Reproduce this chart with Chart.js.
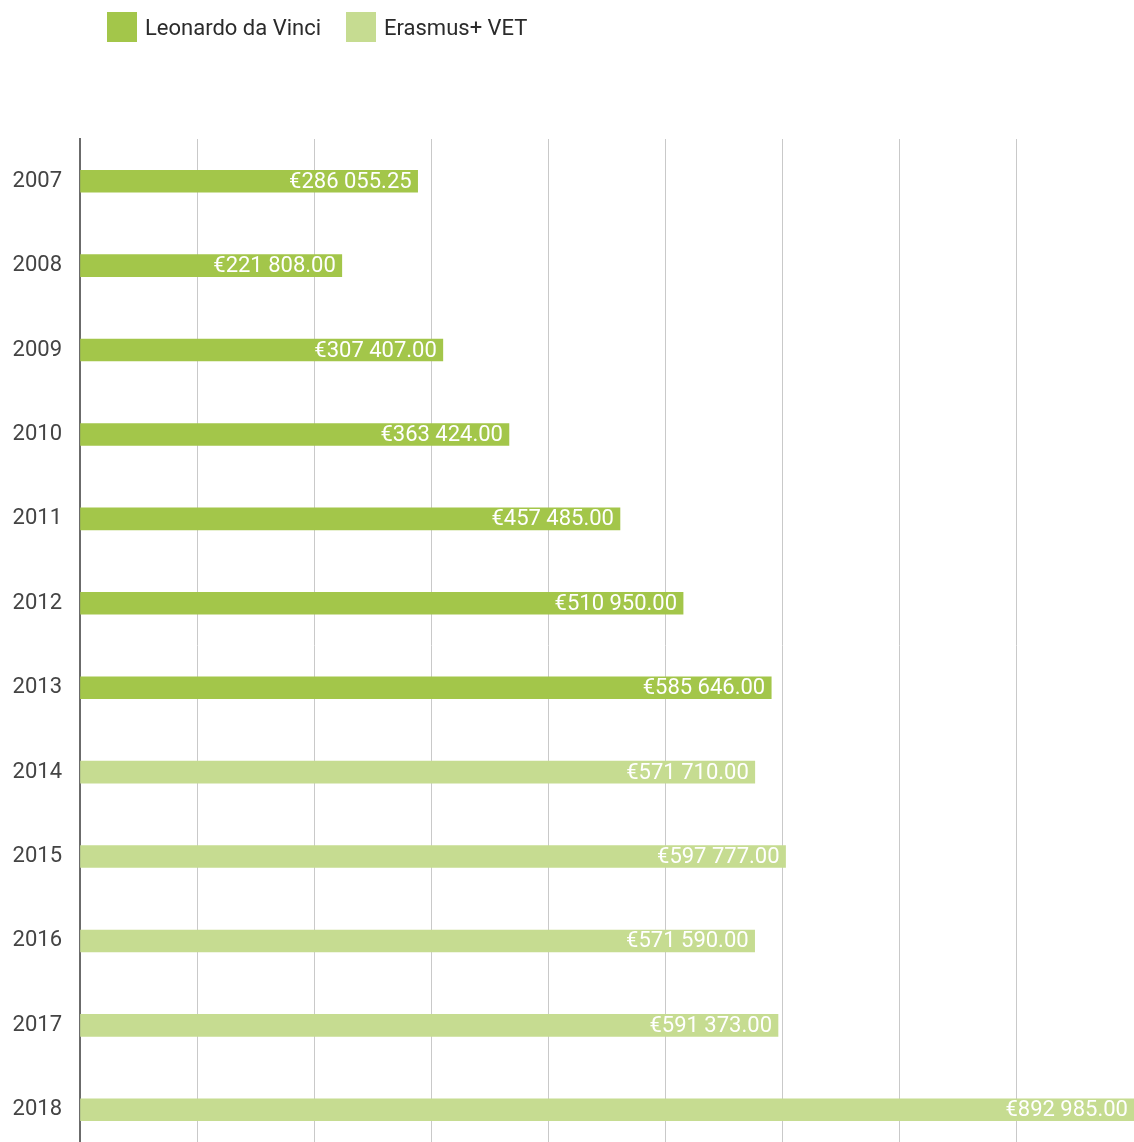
<!DOCTYPE html>
<html>
<head>
<meta charset="utf-8">
<script src="https://cdn.jsdelivr.net/npm/chart.js@4.4.1/dist/chart.umd.min.js"></script>
<style>
  html, body {
    margin: 0;
    padding: 0;
    background: #ffffff;
    overflow: hidden;
  }
  #wrap {
    position: relative;
    width: 1134px;
    height: 1152px;
  }
  .legend-item {
    position: absolute;
    top: 12px;
    display: flex;
    align-items: center;
    font-family: Roboto, "DejaVu Sans", sans-serif;
    font-size: 22px;
    color: #2b2b2b;
    white-space: nowrap;
  }
  .legend-box {
    width: 30px;
    height: 30px;
    margin-right: 8px;
  }
</style>
</head>
<body>
<div id="wrap">
  <div class="legend-item" style="left:107px"><span class="legend-box" style="background:#a3c64a"></span>Leonardo da Vinci</div>
  <div class="legend-item" style="left:346px"><span class="legend-box" style="background:#c6dc91"></span>Erasmus+ VET</div>
  <canvas id="grantChart"></canvas>
</div>

<script>
// Years on the vertical axis
const YEARS = ["2007", "2008", "2009", "2010", "2011", "2012", "2013", "2014", "2015", "2016", "2017", "2018"];

// Yearly grant amounts (EUR) per programme
const LEONARDO = [286055.25, 221808.0, 307407.0, 363424.0, 457485.0, 510950.0, 585646.0, null, null, null, null, null];
const ERASMUS_VET = [null, null, null, null, null, null, null, 571710.0, 597777.0, 571590.0, 591373.0, 892985.0];

const COLOR_LEONARDO = "#a3c64a";
const COLOR_ERASMUS = "#c6dc91";
const FONT_FAMILY = "Roboto, 'DejaVu Sans', sans-serif";
const GRID_STEP = 100000;

// Format as €286 055.25 (space as thousands separator)
function formatEuro(amount) {
  const parts = amount.toFixed(2).split(".");
  const whole = parts[0].replace(/\B(?=(\d{3})+(?!\d))/g, " ");
  return "€" + whole + "." + parts[1];
}

// Draw the amount inside the end of each bar
const barValueLabels = {
  id: "barValueLabels",
  afterDatasetsDraw(chart) {
    const ctx = chart.ctx;
    ctx.save();
    ctx.font = "22px " + FONT_FAMILY;
    ctx.fillStyle = "#ffffff";
    ctx.textAlign = "right";
    ctx.textBaseline = "middle";
    chart.data.datasets.forEach((ds, i) => {
      const meta = chart.getDatasetMeta(i);
      meta.data.forEach((bar, j) => {
        const value = ds.data[j];
        if (value === null || value === undefined) return;
        ctx.fillText(formatEuro(value), bar.x - 6, bar.y + 1);
      });
    });
    ctx.restore();
  },
};

const allValues = LEONARDO.concat(ERASMUS_VET).filter((v) => v !== null);
const xMax = Math.ceil(Math.max(...allValues) / 1000) * 1000;

new Chart(document.getElementById("grantChart"), {
  type: "bar",
  data: {
    labels: YEARS,
    datasets: [
      {
        label: "Leonardo da Vinci",
        data: LEONARDO,
        backgroundColor: COLOR_LEONARDO,
        barThickness: 22,
      },
      {
        label: "Erasmus+ VET",
        data: ERASMUS_VET,
        backgroundColor: COLOR_ERASMUS,
        barThickness: 22,
      },
    ],
  },
  options: {
    indexAxis: "y",
    responsive: true,
    maintainAspectRatio: false,
    animation: false,
    layout: {
      padding: { top: 139, right: 0, bottom: 0, left: 0 },
    },
    plugins: {
      legend: { display: false },
      tooltip: { enabled: false },
    },
    scales: {
      x: {
        stacked: true,
        min: 0,
        max: xMax,
        ticks: { display: false, stepSize: GRID_STEP },
        grid: { drawTicks: false, lineWidth: 1, color: "#c9c9c9" },
        border: { display: false },
      },
      y: {
        stacked: true,
        grid: { display: false, drawTicks: false },
        border: { display: true, color: "#6b6b6b", width: 2 },
        ticks: {
          color: "#444444",
          padding: 18,
          font: { family: FONT_FAMILY, size: 22 },
        },
        afterFit: (scale) => {
          scale.width = 80;
          scale.paddingTop = 0;
          scale.paddingBottom = 0;
        },
      },
    },
  },
  plugins: [barValueLabels],
});
</script>
</body>
</html>
